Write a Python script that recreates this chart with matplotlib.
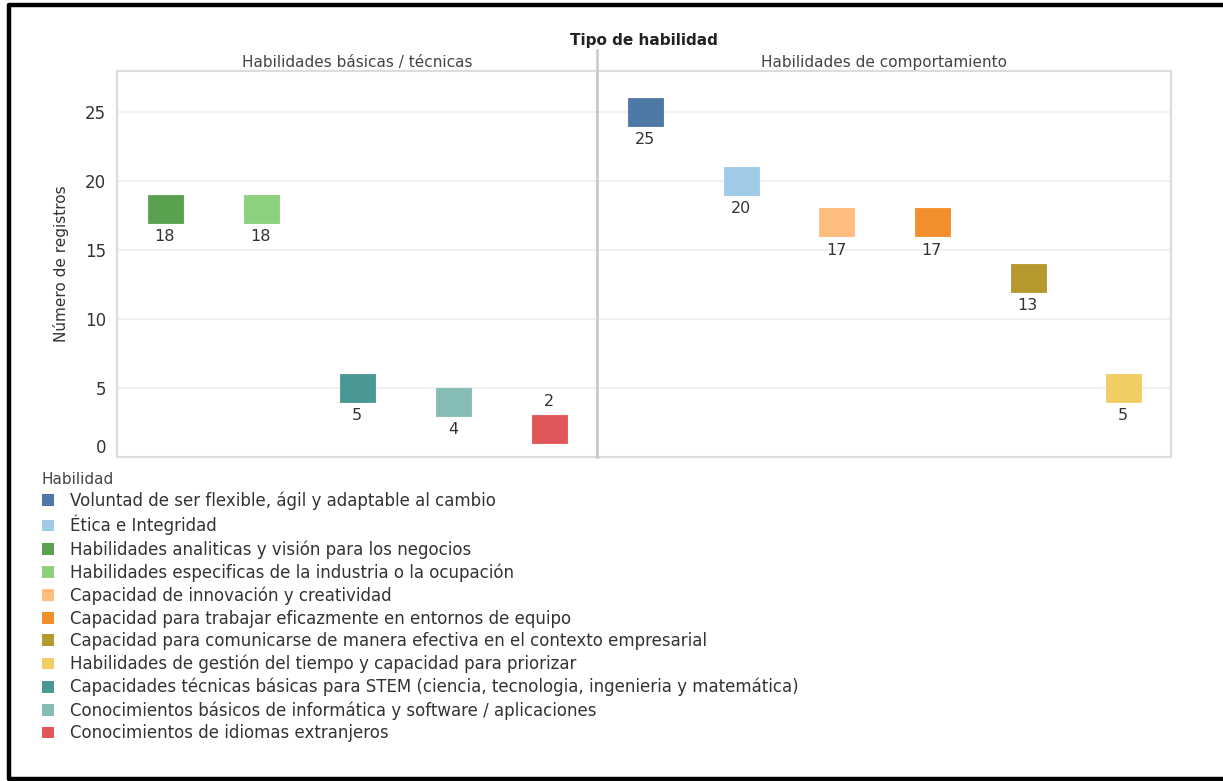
import matplotlib
matplotlib.use("Agg")
import matplotlib.pyplot as plt
from matplotlib.patches import Patch
from matplotlib.lines import Line2D

plt.rcParams['font.family'] = ['DejaVu Sans']

# Data ---------------------------------------------------------------
basic_skills = [
    "Habilidades analiticas y visión para los negocios",
    "Habilidades especificas de la industria o la ocupación",
    "Capacidades técnicas básicas para STEM (ciencia, tecnologia, ingenieria y matemática)",
    "Conocimientos básicos de informática y software / aplicaciones",
    "Conocimientos de idiomas extranjeros",
]
basic_counts = [18, 18, 5, 4, 2]

behaviour_skills = [
    "Voluntad de ser flexible, ágil y adaptable al cambio",
    "Ética e Integridad",
    "Capacidad de innovación y creatividad",
    "Capacidad para trabajar eficazmente en entornos de equipo",
    "Capacidad para comunicarse de manera efectiva en el contexto empresarial",
    "Habilidades de gestión del tiempo y capacidad para priorizar",
]
behaviour_counts = [25, 20, 17, 17, 13, 5]

legend_order = [
    "Voluntad de ser flexible, ágil y adaptable al cambio",
    "Ética e Integridad",
    "Habilidades analiticas y visión para los negocios",
    "Habilidades especificas de la industria o la ocupación",
    "Capacidad de innovación y creatividad",
    "Capacidad para trabajar eficazmente en entornos de equipo",
    "Capacidad para comunicarse de manera efectiva en el contexto empresarial",
    "Habilidades de gestión del tiempo y capacidad para priorizar",
    "Capacidades técnicas básicas para STEM (ciencia, tecnologia, ingenieria y matemática)",
    "Conocimientos básicos de informática y software / aplicaciones",
    "Conocimientos de idiomas extranjeros",
]
skill_colors = {
    legend_order[0]: "#4E79A7",
    legend_order[1]: "#A0CBE8",
    legend_order[2]: "#59A14F",
    legend_order[3]: "#8CD17D",
    legend_order[4]: "#FFBE7D",
    legend_order[5]: "#F28E2B",
    legend_order[6]: "#B6992D",
    legend_order[7]: "#F1CE63",
    legend_order[8]: "#499894",
    legend_order[9]: "#86BCB6",
    legend_order[10]: "#E15759",
}

panel_titles = ["Habilidades básicas / técnicas", "Habilidades de comportamiento"]
y_ticks = [0, 5, 10, 15, 20, 25]

# Figure ---------------------------------------------------------------
W, H = 1223, 781
fig = plt.figure(figsize=(W / 100, H / 100), dpi=100)

def fx(px):
    return px / W

def fy(py):
    return 1 - py / H

top_px, bot_px = 71, 457
left_px, mid_px, right_px = 117, 597, 1171
ax1 = fig.add_axes([fx(left_px), fy(bot_px), fx(mid_px - left_px), (bot_px - top_px) / H])
ax2 = fig.add_axes([fx(mid_px), fy(bot_px), fx(right_px - mid_px), (bot_px - top_px) / H], sharey=ax1)

# rectangular marker, wider than tall
rect_marker = [(-1, -0.8), (1, -0.8), (1, 0.8), (-1, 0.8), (-1, -0.8)]
text_col = "#333333"
frame_col = "#dcdcdc"

for ax, skills, counts, title in [(ax1, basic_skills, basic_counts, panel_titles[0]),
                                  (ax2, behaviour_skills, behaviour_counts, panel_titles[1])]:
    n = len(skills)
    ax.set_xlim(-0.5, n - 0.5)
    ax.set_ylim(0, 27.97)
    for i, (s, v) in enumerate(zip(skills, counts)):
        ax.plot(i, v, marker=rect_marker, ms=25.2, ls="none",
                color=skill_colors[s], mec=skill_colors[s], mew=0.6, zorder=3)
        if v < 3:
            ax.annotate(str(v), (i, v), xytext=(0, 14.6), textcoords="offset points",
                        ha="center", va="bottom", fontsize=11.5, color=text_col)
        else:
            ax.annotate(str(v), (i, v), xytext=(0, -14.6), textcoords="offset points",
                        ha="center", va="top", fontsize=11.5, color=text_col)
    ax.set_xticks([])
    ax.set_yticks(y_ticks)
    ax.grid(axis="y", color="#eeeeee", lw=1.2, zorder=0)
    ax.tick_params(axis="y", length=0, pad=8, labelsize=12, labelcolor=text_col)
    for sp in ax.spines.values():
        sp.set_color(frame_col)
        sp.set_linewidth(1.6)
    ax.set_title(title, fontsize=11, color="#444444", pad=3)

ax2.tick_params(axis="y", labelleft=False)
ax1.yaxis.get_major_ticks()[0].label1.set_verticalalignment("bottom")
ax1.set_ylabel("Número de registros", fontsize=11, color=text_col, labelpad=11)

# divider between the two panels, running up through the header
ax2.spines["left"].set_visible(False)
ax2.plot([0, 0], [0, 1.055], transform=ax2.transAxes, color="#c8c8c8",
         lw=1.8, clip_on=False, zorder=4)

fig.text(fx((left_px + right_px) / 2), fy(40), "Tipo de habilidad", ha="center",
         va="center", fontsize=11, fontweight="bold", color="#222222")

# Legend
handles = [Patch(facecolor=skill_colors[s], edgecolor="none") for s in legend_order]
leg = fig.legend(handles, legend_order, title="Habilidad", loc="upper left",
                 bbox_to_anchor=(fx(42), fy(472)), frameon=False, alignment="left",
                 fontsize=12, title_fontsize=11, handlelength=0.72, handleheight=0.72,
                 handletextpad=0.95, labelspacing=0.28, borderpad=0, borderaxespad=0)
for t in leg.get_texts():
    t.set_color(text_col)
leg.get_title().set_color("#444444")

# Outer black frame (open on the right)
frame = Line2D([1.0, fx(8.5), fx(8.5), 1.0], [fy(5), fy(5), fy(779), fy(779)],
               transform=fig.transFigure, color="black", lw=3.2)
fig.add_artist(frame)

fig.savefig("out.png", dpi=100, facecolor="white")
